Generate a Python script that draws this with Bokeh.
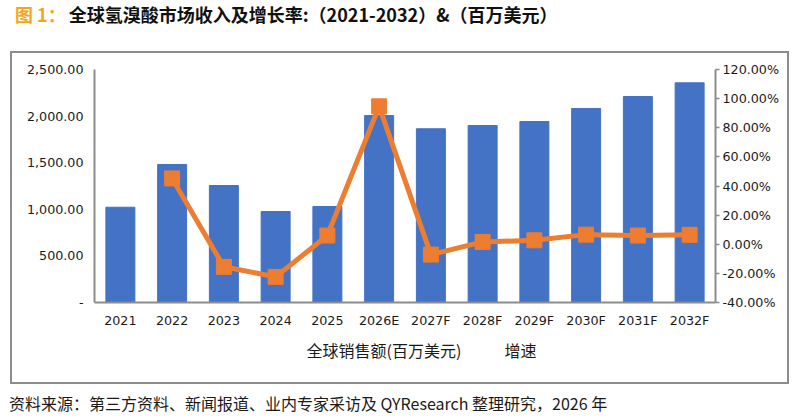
from bokeh.plotting import figure
from bokeh.layouts import column
from bokeh.models import (Range1d, FactorRange, LinearAxis, FixedTicker,
                          NumeralTickFormatter, PrintfTickFormatter, Title, Div)
from bokeh.embed import file_html
from bokeh.resources import INLINE

# ---------------- data ----------------
years = ["2021", "2022", "2023", "2024", "2025", "2026E", "2027F",
         "2028F", "2029F", "2030F", "2031F", "2032F"]
sales = [1022, 1481, 1255, 976, 1030, 2006, 1864, 1899, 1942, 2082, 2210, 2357]
growth_years = years[1:]
growth = [45.2, -15.5, -22.4, 6.0, 94.7, -7.1, 1.6, 2.7, 6.6, 6.0, 6.5]
left_ticks = [0, 500, 1000, 1500, 2000, 2500]
right_ticks = [-40, -20, 0, 20, 40, 60, 80, 100, 120]

title_prefix = "图 1："
title_text = "全球氢溴酸市场收入及增长率:（2021-2032）&（百万美元）"
legend_sales = "全球销售额(百万美元)"
legend_growth = "增速"
source_text = "资料来源：第三方资料、新闻报道、业内专家采访及 QYResearch 整理研究，2026 年"

# ---------------- layout ----------------
GRAY = "#8c8c8c"
TXT = "#1a1a1a"
CJK = "Noto Sans CJK SC"
NUM = "DejaVu Sans"
NUM_SIZE = "12.7px"

title_div = Div(
    text=(f'<span style="margin-left:10px;color:#F2A71B;margin-right:3px">{title_prefix}</span>'
          f'<span style="color:#111111">{title_text}</span>'),
    width=789, height=41,
    styles={"font-family": f"'{CJK}'", "font-size": "18px",
            "font-weight": "bold", "line-height": "18px",
            "white-space": "nowrap"})

# box around the chart: left edge 10px in from the canvas edge
box_shadow = (f"inset 10px 0 0 0 white, inset 12px 0 0 0 {GRAY}, "
              f"inset 0 2px 0 0 {GRAY}, inset 0 -2px 0 0 {GRAY}, "
              f"inset -2px 0 0 0 {GRAY}")

W, H = 789, 333
p = figure(width=W, height=H, x_range=FactorRange(factors=years),
           y_range=Range1d(0, 2500), output_backend="svg",
           toolbar_location=None, min_border_left=94, min_border_right=74,
           min_border_top=18, min_border_bottom=82,
           styles={"box-shadow": box_shadow})
p.outline_line_color = None
p.xgrid.visible = False
p.ygrid.visible = False
p.background_fill_color = "white"
p.border_fill_color = None

la = p.left[0]
la.ticker = FixedTicker(ticks=left_ticks)
la.formatter = NumeralTickFormatter(format="0,0.00")
la.major_label_overrides = {0: "-"}
la.major_tick_line_color = None
la.minor_tick_line_color = None
la.major_tick_out = 0
la.major_tick_in = 0
la.major_label_standoff = 11
la.axis_line_color = GRAY
la.axis_line_width = 2
la.major_label_text_font = NUM
la.major_label_text_font_size = NUM_SIZE
la.major_label_text_color = TXT

xa = p.below[0]
xa.major_tick_line_color = None
xa.minor_tick_line_color = None
xa.major_tick_out = 0
xa.major_tick_in = 0
xa.major_label_standoff = 10
xa.axis_line_color = GRAY
xa.axis_line_width = 2
xa.major_label_text_font = NUM
xa.major_label_text_font_size = NUM_SIZE
xa.major_label_text_color = TXT

p.extra_y_ranges = {"pct": Range1d(-40, 120)}
ra = LinearAxis(y_range_name="pct", ticker=FixedTicker(ticks=right_ticks),
                formatter=PrintfTickFormatter(format="%.2f%%"))
ra.minor_tick_line_color = None
ra.major_tick_out = 4
ra.major_tick_in = 0
ra.major_tick_line_color = GRAY
ra.major_tick_line_width = 1.5
ra.major_label_standoff = 3
ra.axis_line_color = GRAY
ra.axis_line_width = 2
ra.major_label_text_font = NUM
ra.major_label_text_font_size = NUM_SIZE
ra.major_label_text_color = TXT
p.add_layout(ra, "right")

p.vbar(x=years, top=sales, width=0.56, color="#4472C4")
p.line(x=growth_years, y=growth, y_range_name="pct",
       line_color="#ED7D31", line_width=5)
p.scatter(x=growth_years, y=growth, y_range_name="pct", marker="square",
          size=15, color="#ED7D31")

# legend line (text only, as in the reference)
p.add_layout(Title(text=legend_sales + "\u3000\u3000\u2002\u2009" + legend_growth,
                   align="left", offset=212, standoff=10,
                   text_font=CJK, text_font_size="16px",
                   text_font_style="normal", text_color=TXT), "below")

source_div = Div(
    text=f'<span style="margin-left:9px">{source_text}</span>',
    width=789, height=16, margin=(11, 0, 0, 0),
    styles={"font-family": f"'{CJK}'", "font-size": "16px",
            "line-height": "16px", "color": TXT, "white-space": "nowrap"})

layout = column(title_div, p, source_div, spacing=0)
open("out.html", "w").write(file_html(layout, INLINE))
